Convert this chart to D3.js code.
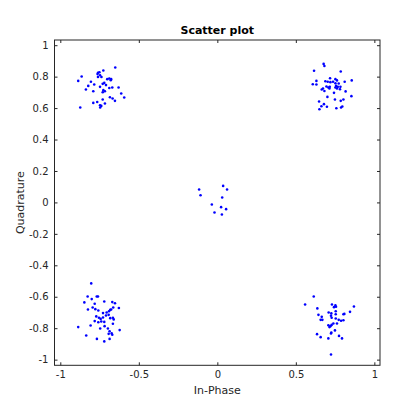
<!DOCTYPE html>
<html>
<head>
<meta charset="utf-8">
<script src="https://cdn.jsdelivr.net/npm/d3@7"></script>
<style>
  body { margin: 0; background: #fff; }
  text { font-family: "DejaVu Sans", sans-serif; }
</style>
</head>
<body>
<div id="chart"></div>
<script>
// constellation points, one array per cluster
var topLeftI = [-0.650,-0.726,-0.760,-0.751,-0.763,-0.747,-0.760,-0.738,-0.864,-0.886,-0.688,-0.676,-0.701,-0.679,-0.720,-0.730,-0.805,-0.784,-0.822,-0.747,-0.709,-0.688,-0.669,-0.629,-0.837,-0.790,-0.726,-0.716,-0.730,-0.612,-0.593,-0.684,-0.667,-0.652,-0.730,-0.765,-0.790,-0.747,-0.739,-0.746,-0.716,-0.873];
var topLeftQ = [0.858,0.839,0.825,0.828,0.816,0.809,0.798,0.798,0.801,0.773,0.788,0.784,0.784,0.777,0.760,0.754,0.767,0.750,0.741,0.735,0.746,0.728,0.731,0.731,0.718,0.707,0.714,0.707,0.701,0.693,0.667,0.669,0.661,0.646,0.655,0.639,0.633,0.618,0.614,0.604,0.629,0.604];

var topRightI = [0.677,0.682,0.616,0.786,0.631,0.718,0.752,0.762,0.688,0.703,0.720,0.737,0.856,0.811,0.608,0.631,0.752,0.773,0.695,0.716,0.756,0.767,0.784,0.673,0.665,0.682,0.707,0.714,0.752,0.762,0.781,0.743,0.817,0.701,0.854,0.648,0.679,0.663,0.698,0.650,0.749,0.786,0.803,0.758,0.788,0.796];
var topRightQ = [0.881,0.868,0.837,0.833,0.773,0.790,0.784,0.776,0.771,0.767,0.765,0.767,0.776,0.767,0.752,0.750,0.758,0.756,0.737,0.735,0.741,0.735,0.735,0.725,0.718,0.709,0.731,0.725,0.731,0.725,0.720,0.697,0.706,0.671,0.676,0.642,0.625,0.612,0.608,0.593,0.655,0.646,0.655,0.599,0.604,0.610];

var centerI = [-0.116,-0.107,0.037,0.062,0.031,-0.035,0.024,0.056,-0.018,0.029];
var centerQ = [0.082,0.046,0.105,0.082,0.031,-0.013,-0.030,-0.043,-0.064,-0.077];

var bottomLeftI = [-0.803,-0.826,-0.800,-0.768,-0.760,-0.847,-0.781,-0.720,-0.669,-0.652,-0.794,-0.824,-0.777,-0.758,-0.663,-0.676,-0.627,-0.690,-0.682,-0.728,-0.705,-0.709,-0.692,-0.771,-0.754,-0.743,-0.728,-0.682,-0.665,-0.660,-0.781,-0.758,-0.739,-0.720,-0.665,-0.807,-0.886,-0.746,-0.718,-0.697,-0.686,-0.622,-0.692,-0.673,-0.669,-0.835,-0.767,-0.686,-0.720];
var bottomLeftQ = [-0.515,-0.598,-0.615,-0.598,-0.598,-0.636,-0.645,-0.630,-0.634,-0.641,-0.668,-0.681,-0.679,-0.687,-0.668,-0.681,-0.672,-0.692,-0.683,-0.704,-0.700,-0.719,-0.715,-0.725,-0.734,-0.741,-0.732,-0.736,-0.734,-0.744,-0.755,-0.762,-0.757,-0.760,-0.772,-0.783,-0.793,-0.802,-0.787,-0.802,-0.819,-0.812,-0.836,-0.833,-0.842,-0.846,-0.868,-0.868,-0.884];

var bottomRightI = [0.614,0.559,0.730,0.752,0.743,0.756,0.637,0.870,0.845,0.809,0.803,0.754,0.709,0.726,0.754,0.644,0.665,0.724,0.728,0.754,0.658,0.669,0.773,0.788,0.803,0.739,0.762,0.707,0.720,0.714,0.728,0.749,0.726,0.724,0.635,0.658,0.707,0.775,0.794,0.724];
var bottomRightQ = [-0.598,-0.649,-0.649,-0.655,-0.666,-0.664,-0.674,-0.662,-0.696,-0.709,-0.711,-0.692,-0.700,-0.706,-0.711,-0.715,-0.728,-0.721,-0.734,-0.738,-0.747,-0.747,-0.747,-0.753,-0.749,-0.770,-0.770,-0.781,-0.787,-0.793,-0.779,-0.814,-0.827,-0.833,-0.838,-0.857,-0.865,-0.849,-0.865,-0.967];

var xTicks = [-1, -0.5, 0, 0.5, 1];
var yTicks = [-1, -0.8, -0.6, -0.4, -0.2, 0, 0.2, 0.4, 0.6, 0.8, 1];

var width = 420, height = 420;
// plot box edges (note: "top" is a reserved window property, so use other names)
var boxL = 54.5, boxR = 380, boxT = 40, boxB = 365.3;
var axisColor = '#262626';

var svg = d3.select('#chart').append('svg')
  .attr('width', width).attr('height', height);

var x = d3.scaleLinear().domain([-1.037, 1.036]).range([boxL, boxR]);
var y = d3.scaleLinear().domain([-1.036, 1.033]).range([boxB, boxT]);

var points = [];
[[topLeftI, topLeftQ], [topRightI, topRightQ], [centerI, centerQ],
 [bottomLeftI, bottomLeftQ], [bottomRightI, bottomRightQ]].forEach(function(c) {
  c[0].forEach(function(v, i) { points.push({ i: v, q: c[1][i] }); });
});

svg.append('g').selectAll('circle')
  .data(points)
  .enter().append('circle')
  .attr('cx', function(d) { return x(d.i); })
  .attr('cy', function(d) { return y(d.q); })
  .attr('r', 1.3)
  .attr('fill', '#0000ff');

function fmt(d) { return String(+d.toFixed(1)); }

// axes: ticks point inward, box on all sides
var xBottom = svg.append('g').attr('transform', 'translate(0,' + boxB + ')')
  .call(d3.axisBottom(x).tickValues(xTicks).tickSize(-3).tickPadding(6).tickFormat(fmt));
var xTop = svg.append('g').attr('transform', 'translate(0,' + boxT + ')')
  .call(d3.axisTop(x).tickValues(xTicks).tickSize(-3).tickFormat(''));
var yLeft = svg.append('g').attr('transform', 'translate(' + boxL + ',0)')
  .call(d3.axisLeft(y).tickValues(yTicks).tickSize(-3).tickPadding(6).tickFormat(fmt));
var yRight = svg.append('g').attr('transform', 'translate(' + boxR + ',0)')
  .call(d3.axisRight(y).tickValues(yTicks).tickSize(-3).tickFormat(''));

[xBottom, xTop, yLeft, yRight].forEach(function(g) {
  g.select('.domain').remove();
  g.selectAll('line').attr('stroke', axisColor);
  g.selectAll('text').attr('fill', axisColor).style('font-size', '10px')
    .style('font-family', '"DejaVu Sans", sans-serif');
});

svg.append('rect')
  .attr('x', boxL).attr('y', boxT)
  .attr('width', boxR - boxL).attr('height', boxB - boxT)
  .attr('fill', 'none').attr('stroke', axisColor).attr('stroke-width', 1);

svg.append('text')
  .attr('x', (boxL + boxR) / 2).attr('y', 34)
  .attr('text-anchor', 'middle')
  .style('font-size', '11px').style('font-weight', 'bold')
  .attr('fill', '#000')
  .text('Scatter plot');

svg.append('text')
  .attr('x', (boxL + boxR) / 2).attr('y', 394)
  .attr('text-anchor', 'middle')
  .style('font-size', '11px')
  .attr('fill', axisColor)
  .text('In-Phase');

svg.append('text')
  .attr('transform', 'translate(24,' + ((boxT + boxB) / 2) + ') rotate(-90)')
  .attr('text-anchor', 'middle')
  .style('font-size', '11px')
  .attr('fill', axisColor)
  .text('Quadrature');
</script>
</body>
</html>
